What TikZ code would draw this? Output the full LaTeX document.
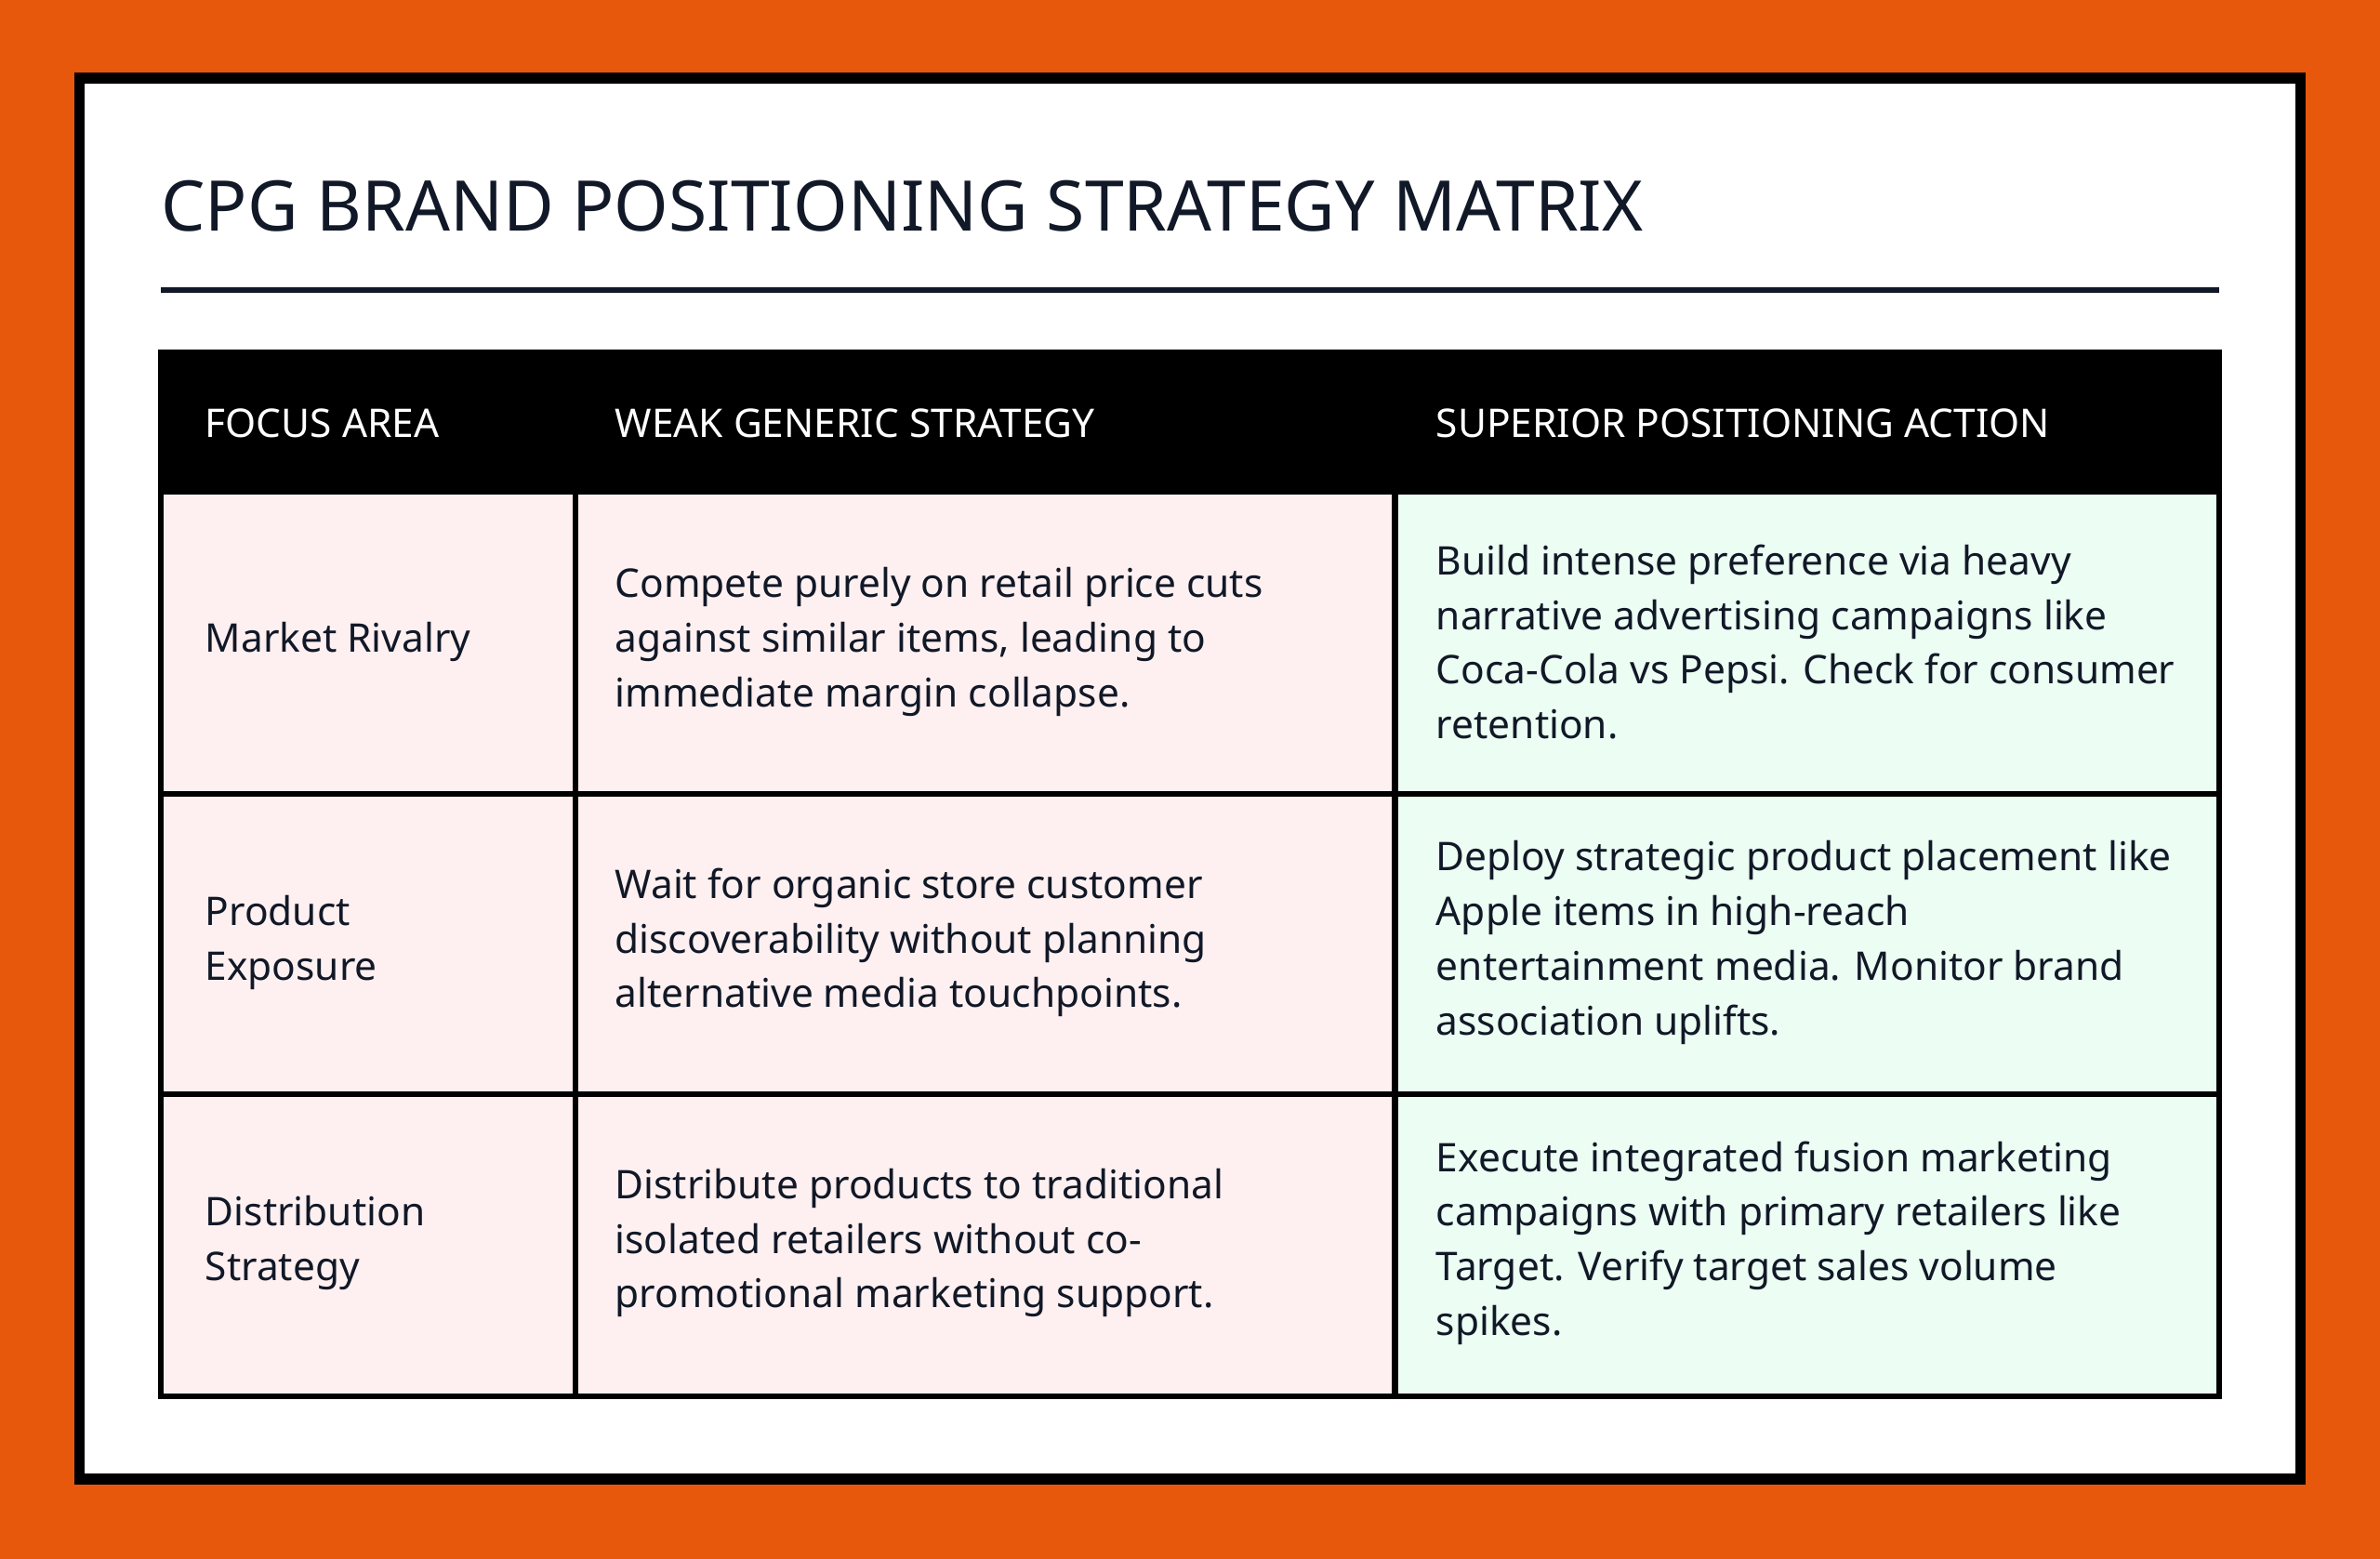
\documentclass[tikz,border=0pt]{standalone}
\usepackage{fontspec}
\setmainfont{Noto Sans}
\definecolor{bgor}{HTML}{E8580C}
\definecolor{navy}{HTML}{111827}
\definecolor{pinkc}{HTML}{FEF0F0}
\definecolor{greenc}{HTML}{ECFDF3}
\tikzset{
  hdr/.style={anchor=west,text=white,font=\fontsize{26}{32}\selectfont\bfseries,inner sep=0},
  lbl/.style={anchor=west,text=navy,font=\fontsize{26}{36}\selectfont\bfseries,align=left,inner sep=0},
  body/.style={anchor=west,text=navy,font=\fontsize{26}{36}\selectfont,align=left,inner sep=0},
  grid/.style={line width=4pt,black}
}
\begin{document}
\begin{tikzpicture}[x=1pt,y=-1pt]
\useasboundingbox (0,0) rectangle (1568,1027);
\fill[bgor] (0,0) rectangle (1568,1027);
\fill[white,draw=black,line width=7pt] (52.5,51.5) rectangle (1515.5,974.5);
\node[anchor=base west,inner sep=0,text=navy,font=\fontsize{46}{50}\selectfont\bfseries] (title) at (106,152) {CPG BRAND POSITIONING STRATEGY MATRIX};
\draw[line width=4pt,navy] (106,191) -- (1462,191);
% fills
\fill[black] (106,232) rectangle (1462,326);
\fill[pinkc] (106,326) rectangle (919,920);
\fill[greenc] (919,326) rectangle (1462,920);
% grid
\draw[grid] (106,232) rectangle (1462,920);
\draw[grid] (379,326) -- (379,920);
\draw[grid] (919,326) -- (919,920);
\draw[grid] (106,523) -- (1462,523);
\draw[grid] (106,721) -- (1462,721);
% header
\node[hdr] (h1) at (135,279) {FOCUS AREA};
\node[hdr] (h2) at (405,279) {WEAK GENERIC STRATEGY};
\node[hdr] (h3) at (946,279) {SUPERIOR POSITIONING ACTION};
% row 1
\node[lbl] (r1a) at (135,423) {Market Rivalry};
\node[body] (r1b) at (405,423) {Compete purely on retail price cuts\\against similar items, leading to\\immediate margin collapse.};
\node[body] (r1c) at (946,423) {Build intense preference via heavy\\narrative advertising campaigns like\\Coca-Cola vs Pepsi. Check for consumer\\retention.};
% row 2
\node[lbl] (r2a) at (135,621) {Product\\Exposure};
\node[body] (r2b) at (405,621) {Wait for organic store customer\\discoverability without planning\\alternative media touchpoints.};
\node[body] (r2c) at (946,621) {Deploy strategic product placement like\\Apple items in high-reach\\entertainment media. Monitor brand\\association uplifts.};
% row 3
\node[lbl] (r3a) at (135,819) {Distribution\\Strategy};
\node[body] (r3b) at (405,819) {Distribute products to traditional\\isolated retailers without co-\\promotional marketing support.};
\node[body] (r3c) at (946,819) {Execute integrated fusion marketing\\campaigns with primary retailers like\\Target. Verify target sales volume\\spikes.};
\end{tikzpicture}
\end{document}
